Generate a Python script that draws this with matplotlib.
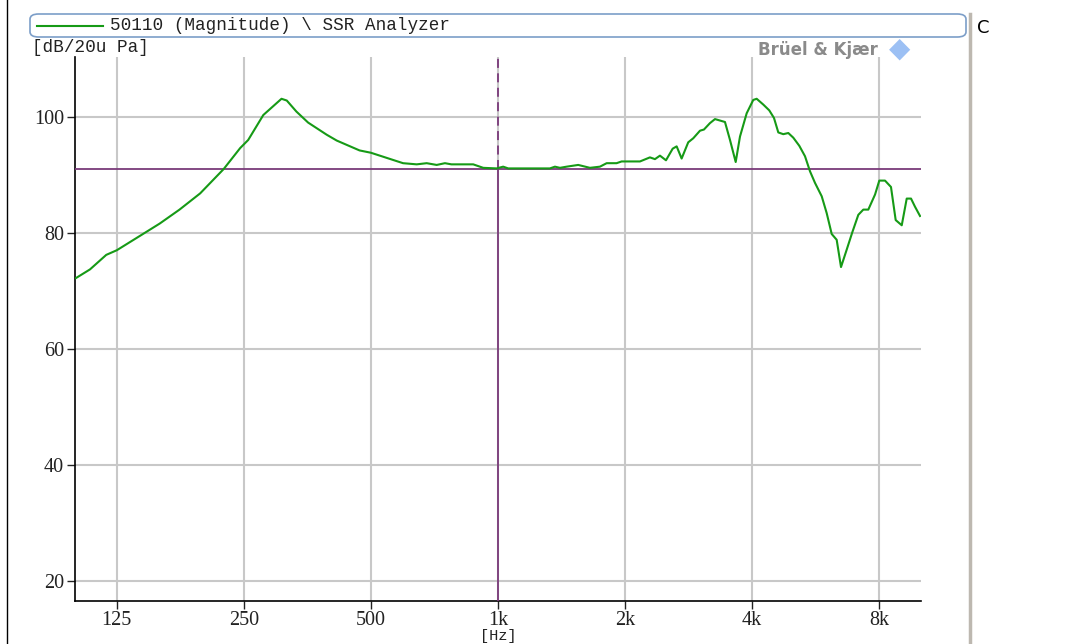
import matplotlib.pyplot as plt
import numpy as np
from matplotlib.patches import FancyBboxPatch

plt.rcParams["font.family"] = ["Liberation Serif", "DejaVu Serif"]

# frequency response (Hz, dB)
freq = [100, 108, 118, 125, 142, 158, 176, 197, 224, 245, 256, 278, 307, 316,
        333, 355, 393, 415, 470, 500, 525, 596, 642, 678, 716, 749, 776, 874,
        923, 993, 1029, 1058, 1328, 1365, 1403, 1455, 1550, 1652, 1745, 1810,
        1911, 1964, 2171, 2292, 2356, 2421, 2502, 2595, 2652, 2725, 2825, 2904,
        3012, 3078, 3180, 3269, 3452, 3548, 3660, 3747, 3886, 4028, 4104, 4255,
        4396, 4510, 4618, 4745, 4877, 5011, 5178, 5342, 5490, 5642, 5852, 6013,
        6180, 6350, 6502, 6707, 6916, 7146, 7343, 7546, 7829, 8013, 8266, 8540,
        8762, 9057, 9306, 9527, 9736, 10006]
level = [72.2, 73.7, 76.2, 77.0, 79.5, 81.6, 84.0, 86.8, 91.0, 94.6, 96.0,
         100.3, 103.1, 102.8, 100.9, 99.0, 96.9, 95.9, 94.2, 93.8, 93.3, 92.0,
         91.8, 92.0, 91.7, 92.0, 91.8, 91.8, 91.2, 91.1, 91.4, 91.1, 91.1, 91.4,
         91.2, 91.4, 91.7, 91.2, 91.4, 92.0, 92.0, 92.3, 92.3, 93.0, 92.7, 93.3,
         92.5, 94.5, 94.9, 92.8, 95.6, 96.3, 97.6, 97.8, 98.9, 99.6, 99.1, 96.0,
         92.2, 96.6, 100.6, 102.9, 103.1, 102.1, 101.1, 99.8, 97.3, 97.0, 97.2,
         96.4, 95.0, 93.2, 90.6, 88.6, 86.3, 83.4, 79.8, 78.8, 74.1, 77.1, 80.1,
         83.1, 84.0, 84.0, 86.6, 89.0, 89.0, 87.9, 82.2, 81.3, 85.9, 85.9, 84.5,
         82.9]

ref_level = 91.0
ref_freq = 1000
xticks = [125, 250, 500, 1000, 2000, 4000, 8000]
xtick_labels = ["125", "250", "500", "1k", "2k", "4k", "8k"]
yticks = [20, 40, 60, 80, 100]

fig = plt.figure(figsize=(10.88, 6.44), dpi=100)
ax = fig.add_axes([75 / 1088, 1 - 601 / 644, (921 - 75) / 1088, (601 - 57) / 644])

ax.set_xscale("log")
ax.set_xlim(99.5, 10060)
ax.set_ylim(16.55, 110.3)

ax.set_xticks(xticks)
ax.set_xticklabels(xtick_labels)
ax.minorticks_off()
ax.set_yticks(yticks)
ax.grid(True, color="#c8c8c8", linewidth=1.5)
ax.set_axisbelow(True)
for s in ["top", "right"]:
    ax.spines[s].set_visible(False)
ax.spines["left"].set_linewidth(1.2)
ax.spines["bottom"].set_linewidth(1.2)
ax.tick_params(direction="out", length=6, width=1, labelsize=14.5, colors="#222222")
ax.tick_params(axis="x", pad=1)
ax.tick_params(axis="y", pad=2)

# reference cursor
ax.axhline(ref_level, color="#7a3a7a", linewidth=1.3, zorder=3)
ax.plot([ref_freq, ref_freq], [16.55, ref_level], color="#7a3a7a", linewidth=1.3, zorder=3)
ax.plot([ref_freq, ref_freq], [ref_level, 110.3], color="#7a3a7a", linewidth=1.3,
        linestyle=(0, (5, 3)), zorder=3)

ax.plot(freq, level, color="#169a16", linewidth=1.5, zorder=4)

# labels
fig.text(32 / 1088, 1 - 48 / 644, "[dB/20u Pa]", fontsize=12.7, va="center", ha="left",
         color="#222222", family="Liberation Mono")
fig.text(498 / 1088, 0.001, "[Hz]", fontsize=11, va="bottom", ha="center",
         color="#222222", family="Liberation Mono")

# legend bar
box = FancyBboxPatch((30 / 1088, 1 - 37 / 644), (966 - 30) / 1088, 23 / 644,
                     boxstyle="round,pad=0,rounding_size=0.008",
                     transform=fig.transFigure, facecolor="white",
                     edgecolor="#7c9ec8", linewidth=1.2)
fig.patches.append(box)
fig.lines.append(plt.Line2D([37 / 1088, 103 / 1088], [1 - 26 / 644] * 2,
                            transform=fig.transFigure, color="#169a16", linewidth=1.5))
fig.text(110 / 1088, 1 - 26 / 644, "50110 (Magnitude) \\ SSR Analyzer", fontsize=12.7,
         va="center", ha="left", color="#222222", family="Liberation Mono")

# logo
fig.text(878 / 1088, 1 - 50 / 644, "Brüel & Kjær", fontsize=12, fontweight="bold",
         va="center", ha="right", color="#8a8a8a", family="DejaVu Sans")
fig.text(900 / 1088, 1 - 49 / 644, "◆", fontsize=20, va="center", ha="center",
         color="#9cc0f4", family="DejaVu Sans")

# frame lines
fig.lines.append(plt.Line2D([7 / 1088] * 2, [0, 1], transform=fig.transFigure,
                            color="black", linewidth=1))
fig.lines.append(plt.Line2D([970 / 1088] * 2, [0, 1 - 14 / 644], transform=fig.transFigure,
                            color="#bdb8b0", linewidth=2.5))
fig.text(977 / 1088, 1 - 28 / 644, "C", fontsize=13, va="center", ha="left",
         color="black", family="DejaVu Sans")

fig.savefig("out.png", dpi=100)
